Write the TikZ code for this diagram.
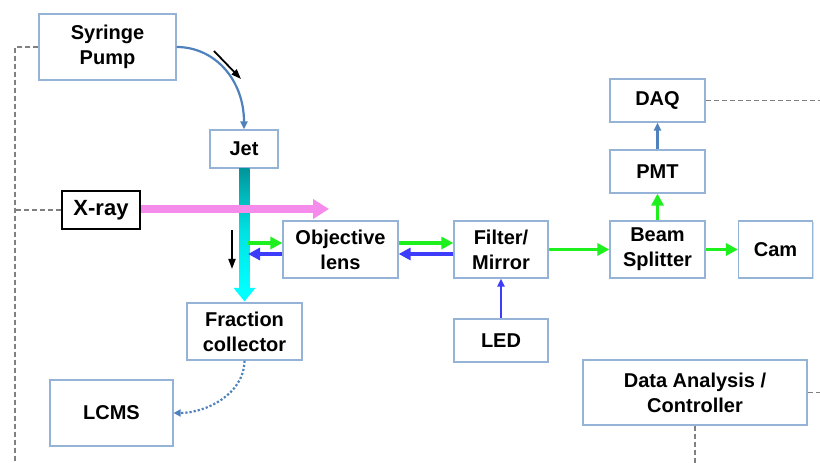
\documentclass[tikz,border=0pt]{standalone}
\usepackage{fontspec}
\setmainfont{Liberation Sans}
\usetikzlibrary{arrows.meta,shadows,calc}
\definecolor{boxc}{RGB}{149,179,215}
\definecolor{pumpc}{RGB}{79,129,189}
\definecolor{grn}{RGB}{30,240,30}
\definecolor{blu}{RGB}{60,60,250}
\definecolor{pinkc}{RGB}{245,140,235}
\definecolor{tealc}{RGB}{0,150,155}
\definecolor{cyanc}{RGB}{0,255,255}
\definecolor{dashc}{RGB}{128,128,128}
\tikzset{
  box/.style={draw=boxc, line width=1.2bp, fill=white, align=center, inner sep=0pt,
    font=\fontsize{20bp}{25bp}\selectfont\bfseries,
    drop shadow={opacity=0.25, shadow xshift=1.2bp, shadow yshift=-1.2bp}},
  garrow/.style={draw=grn, line width=3.8bp, -{Triangle[length=12bp,width=12bp]}},
  barrow/.style={draw=blu, line width=3.8bp, -{Triangle[length=12bp,width=12bp]}},
  thinblue/.style={draw=blu, line width=2.4bp, -{Triangle[length=8bp,width=7bp]}},
  steel/.style={draw=pumpc, line width=2.2bp, -{Triangle[length=8bp,width=7bp]}},
  ctrl/.style={draw=dashc, line width=1.8bp, dash pattern=on 5bp off 3bp},
  flow/.style={draw=black, line width=1.8bp, -{Triangle[length=10bp,width=7bp]}}
}
\begin{document}
\begin{tikzpicture}[x=1bp,y=-1bp]
\useasboundingbox (0,0) rectangle (820,463);
% nodes
\node[box, minimum width=137bp, minimum height=66bp] (pump) at (107.5,47) {Syringe\\Pump};
\node[box, minimum width=68bp, minimum height=38bp] (jet) at (244,149) {Jet};
\node[box, draw=black, minimum width=78bp, minimum height=38bp, font=\fontsize{22bp}{26bp}\selectfont\bfseries] (xray) at (101,210) {X-ray};
\node[box, minimum width=115bp, minimum height=57bp] (obj) at (340.5,249.5) {Objective\\lens};
\node[box, minimum width=94bp, minimum height=57bp] (filt) at (501,249.5) {Filter/\\Mirror};
\node[box, minimum width=94bp, minimum height=43bp] (led) at (501,340.5) {LED};
\node[box, minimum width=95bp, minimum height=57bp] (bs) at (657.5,249.5) {Beam\\Splitter};
\node[box, minimum width=74bp, minimum height=57bp] (cam) at (775.5,249.5) {Cam};
\node[box, minimum width=95bp, minimum height=43bp] (pmt) at (657.5,171.5) {PMT};
\node[box, minimum width=95bp, minimum height=43bp] (daq) at (657.5,100.5) {DAQ};
\node[box, minimum width=115bp, minimum height=57bp] (frac) at (244.5,331.5) {Fraction\\collector};
\node[box, minimum width=123bp, minimum height=66bp] (lcms) at (111.5,413) {LCMS};
\node[box, minimum width=224bp, minimum height=65bp] (dac) at (695,392.5) {Data Analysis /\\Controller};

% control dashed lines
\coordinate (lefttop) at (15,47);
\coordinate (leftbot) at (15,463);
\coordinate (leftx) at (15,210);
\draw[ctrl] (pump.west) -- (lefttop) -- (leftbot);
\draw[ctrl] (xray.west) -- (leftx);
\coordinate (daqr) at (820,100.5);
\draw[ctrl] (daq.east) -- (daqr);
\coordinate (dacr) at (820,392.5);
\draw[ctrl] (dac.east) -- (dacr);
\coordinate (dacb) at (695,463);
\draw[ctrl] (dac.south) -- (dacb);

% jet stream
\coordinate (beamtop) at (jet.south);
\coordinate (beamend) at (frac.north);
\shade[top color=tealc, bottom color=cyanc, middle color=cyanc!70!tealc]
  ($(beamtop)+(-5,0)$) rectangle ($(beamend)+(5,-14)$);
\fill[cyanc] ($(beamend)+(-11,-14.5)$) -- ($(beamend)+(11,-14.5)$) -- ($(beamend)+(0,-1)$) -- cycle;

% X-ray beam
\coordinate (xrayend) at (329,209);
\draw[draw=pinkc, line width=8bp, -{Triangle[length=16bp,width=19bp]}] (xray.east |- xrayend) -- (xrayend);

% syringe to jet
\draw[steel] (pump.east) .. controls (215,47) and (244,80) .. (jet.north);
\coordinate (fa1) at (214,51);
\coordinate (fa2) at (241,79);
\draw[flow] (fa1) -- (fa2);
\coordinate (fb1) at (232,230);
\coordinate (fb2) at (232,269);
\draw[flow] (fb1) -- (fb2);

% optical path
\coordinate (beamR1) at (248,243);
\coordinate (beamR2) at (248,254);
\draw[garrow] (beamR1) -- (obj.west |- beamR1);
\draw[barrow] (obj.west |- beamR2) -- (beamR2);
\draw[garrow] (obj.east |- beamR1) -- (filt.west |- beamR1);
\draw[barrow] (filt.west |- beamR2) -- (obj.east |- beamR2);
\draw[garrow] (filt.east) -- (bs.west);
\draw[garrow] (bs.east) -- (cam.west);
\draw[garrow] (bs.north) -- (pmt.south);
\draw[steel] (pmt.north) -- (daq.south);
\draw[thinblue] (led.north) -- (filt.south);

% fraction to LCMS
\draw[draw=pumpc, line width=2.2bp, dotted, -{Triangle[length=7bp,width=7bp]}]
  (frac.south) .. controls (244,395) and (205,413) .. (lcms.east);
\end{tikzpicture}
\end{document}
